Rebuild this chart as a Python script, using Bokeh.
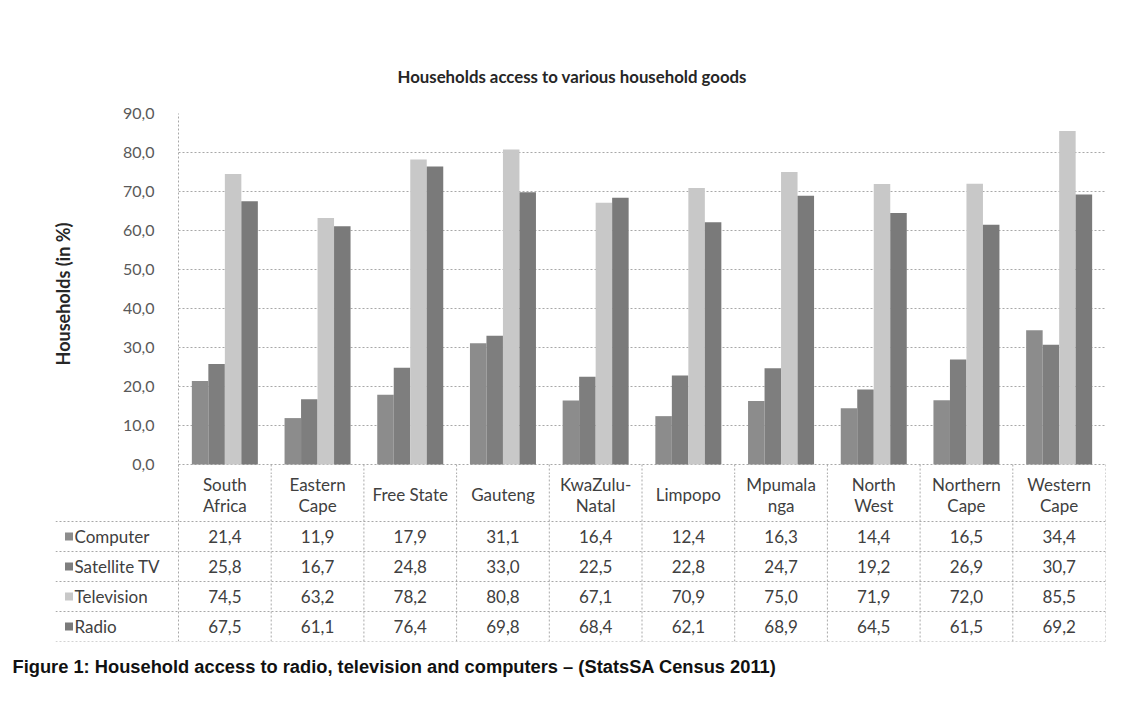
from bokeh.plotting import figure
from bokeh.models import FactorRange, Range1d, FixedTicker, ColumnDataSource, Title
from bokeh.transform import dodge
from bokeh.core.properties import value
from bokeh.embed import file_html
from bokeh.resources import INLINE

categories = ["South Africa", "Eastern Cape", "Free State", "Gauteng", "KwaZulu-Natal",
              "Limpopo", "Mpumalanga", "North West", "Northern Cape", "Western Cape"]
category_labels = ["South\nAfrica", "Eastern\nCape", "Free State", "Gauteng", "KwaZulu-\nNatal",
                   "Limpopo", "Mpumala\nnga", "North\nWest", "Northern\nCape", "Western\nCape"]
computer = [21.4, 11.9, 17.9, 31.1, 16.4, 12.4, 16.3, 14.4, 16.5, 34.4]
satellite_tv = [25.8, 16.7, 24.8, 33.0, 22.5, 22.8, 24.7, 19.2, 26.9, 30.7]
television = [74.5, 63.2, 78.2, 80.8, 67.1, 70.9, 75.0, 71.9, 72.0, 85.5]
radio = [67.5, 61.1, 76.4, 69.8, 68.4, 62.1, 68.9, 64.5, 61.5, 69.2]
series_names = ["Computer", "Satellite TV", "Television", "Radio"]
y_ticks = [0, 10, 20, 30, 40, 50, 60, 70, 80, 90]

series_values = [computer, satellite_tv, television, radio]
colors = ["#8c8c8c", "#7e7e7e", "#c8c8c8", "#7a7a7a"]

FONT = "Lato"
TEXT_COL = "#404040"
GRID_COL = "#a8a8a8"
TABLE_FS = "17px"

n = len(categories)
CAT_PX = 92.7                   # width of one category column in pixels
px_per_unit = 351 / 90.0
strip = 10                      # pixels of the header row drawn in the chart figure
below_zero = strip / px_per_unit

# ---------------- chart ----------------
src = ColumnDataSource(dict(cat=categories, Computer=computer, SatTV=satellite_tv,
                            Television=television, Radio=radio))
p = figure(x_range=FactorRange(factors=categories), y_range=Range1d(-below_zero, 90),
           frame_width=927, frame_height=351 + strip,
           min_border_left=178, min_border_right=26, min_border_top=113, min_border_bottom=0,
           x_axis_location=None, output_backend="svg", toolbar_location=None)
p.outline_line_color = None

bw = 0.178
offsets = [-1.5 * bw, -0.5 * bw, 0.5 * bw, 1.5 * bw]
cols = ["Computer", "SatTV", "Television", "Radio"]
for c, off, col in zip(cols, offsets, colors):
    p.vbar(x=dodge("cat", off, range=p.x_range), top=c, width=bw, source=src,
           fill_color=col, line_color=None)

# top part of the table's column separators
p.segment(x0=list(range(n + 1)), x1=list(range(n + 1)), y0=[-below_zero] * (n + 1),
          y1=[0] * (n + 1), line_color=GRID_COL, line_dash="2 2", line_width=1)

p.yaxis.ticker = FixedTicker(ticks=y_ticks)
p.yaxis.major_label_overrides = {t: f"{t:.1f}".replace(".", ",") for t in y_ticks}
p.yaxis.major_label_text_font = FONT
p.yaxis.major_label_text_font_size = "16px"
p.yaxis.major_label_text_color = "#595959"
p.yaxis.major_tick_line_color = None
p.yaxis.minor_tick_line_color = None
p.yaxis.major_label_standoff = 18
p.yaxis.axis_line_color = GRID_COL
p.yaxis.axis_line_dash = "2 2"
p.yaxis.axis_label = "Households (in %)"
p.yaxis.axis_label_text_font = FONT
p.yaxis.axis_label_text_font_size = "18px"
p.yaxis.axis_label_text_font_style = "bold"
p.yaxis.axis_label_text_color = "#262626"
p.yaxis.axis_label_standoff = 46
p.ygrid.grid_line_color = GRID_COL
p.ygrid.grid_line_dash = "2 2"
for g in p.xgrid:
    g.visible = False

p.title = Title(text="Households access to various household goods", align="left",
                offset=219, text_font=FONT, text_font_size="16.8px", text_font_style="bold",
                text_color="#262626", standoff=54)

# ---------------- table ----------------
t_h = 177 - strip
top_u = t_h / 30.0
left_ext = 123 / CAT_PX
t = figure(x_range=Range1d(-left_ext, n), y_range=Range1d(0, top_u),
           frame_width=1050, frame_height=t_h,
           min_border_left=55, min_border_right=26, min_border_top=0, min_border_bottom=60,
           x_axis_location=None, y_axis_location=None,
           output_backend="svg", toolbar_location=None)
t.outline_line_color = None
for g in list(t.xgrid) + list(t.ygrid):
    g.visible = False

t.segment(x0=[-left_ext] * 5, x1=[n] * 5, y0=list(range(5)), y1=list(range(5)),
          line_color=GRID_COL, line_dash="2 2", line_width=1)
t.segment(x0=list(range(n + 1)), x1=list(range(n + 1)), y0=[0] * (n + 1),
          y1=[top_u] * (n + 1), line_color=GRID_COL, line_dash="2 2", line_width=1)

xc = [i + 0.5 for i in range(n)]
t.text(x=xc, y=[147 / 30.0] * n, text=category_labels, text_align="center", text_baseline="middle",
       text_font=value(FONT), text_font_size=TABLE_FS, text_color=TEXT_COL, text_line_height=1.0)

key_x = -109.5 / CAT_PX
name_x = -104 / CAT_PX
for r, (name, vals, col) in enumerate(zip(series_names, series_values, colors)):
    yc = 3.5 - r
    t.text(x=xc, y=[yc] * n, text=[f"{v:.1f}".replace(".", ",") for v in vals],
           text_align="center", text_baseline="middle",
           text_font=value(FONT), text_font_size=TABLE_FS, text_color=TEXT_COL)
    t.scatter(x=[key_x], y=[yc], marker="square", size=8, fill_color=col, line_color=None)
    t.text(x=[name_x], y=[yc], text=[name], text_align="left", text_baseline="middle",
           text_font=value(FONT), text_font_size=TABLE_FS, text_color=TEXT_COL)

t.add_layout(Title(text="Figure 1: Household access to radio, television and computers \u2013 (StatsSA Census 2011)",
                   align="left", offset=-43, standoff=25, text_font="Liberation Sans",
                   text_font_size="18.3px", text_font_style="bold", text_color="#111111"), "below")

open("out.html", "w").write(file_html([p, t], INLINE))
